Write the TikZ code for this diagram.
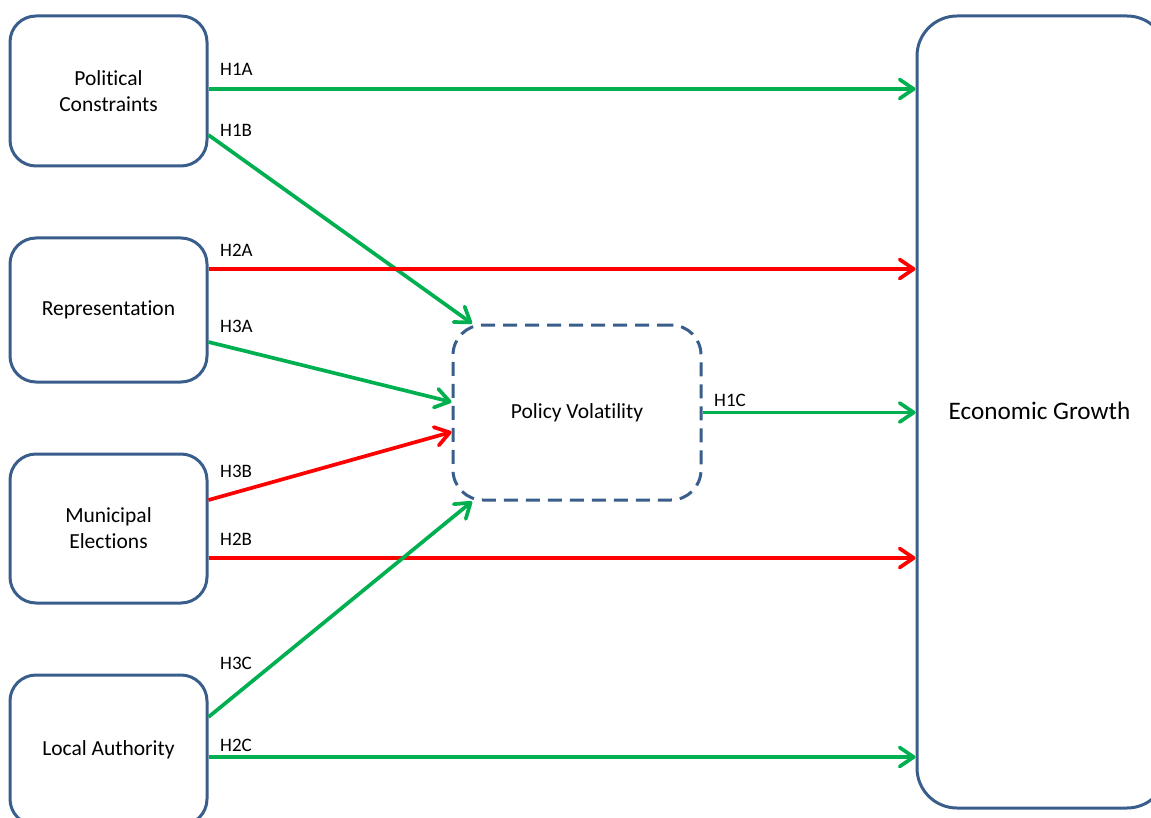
\documentclass[tikz,border=0pt]{standalone}
\usepackage{fontspec}
\setmainfont{Carlito}[Ligatures=NoCommon]
\usetikzlibrary{arrows.meta}
\definecolor{boxblue}{HTML}{3A5E8C}
\definecolor{posgreen}{HTML}{00B050}
\definecolor{negred}{HTML}{FF0000}
\tikzset{
  mybox/.style={draw=boxblue, line width=3pt, rounded corners=26pt, fill=white,
    align=center, inner sep=0pt, font=\fontsize{21.5}{26}\selectfont},
  mydbox/.style={draw=boxblue, line width=3pt, rounded corners=30pt,
    dash pattern=on 14pt off 8pt, align=center, inner sep=0pt,
    font=\fontsize{21.5}{26}\selectfont},
  myconn/.style={line width=3.7pt, -{Straight Barb[length=14pt,width=19pt,line cap=round,line join=round]}},
  posarrow/.style={myconn, draw=posgreen},
  negarrow/.style={myconn, draw=negred},
  mylbl/.style={anchor=base west, inner sep=0pt, font=\fontsize{19}{22}\selectfont}
}
\begin{document}
\begin{tikzpicture}[x=1pt,y=-1pt]
\useasboundingbox (0,0) rectangle (1151,818);
\begin{scope}
\clip (0,0) rectangle (1151,818);
% boxes
\node[mybox, minimum width=197pt, minimum height=150pt] (pc) at (108.5,91) {Political\\Constraints};
\node[mybox, minimum width=197pt, minimum height=144pt] (rep) at (108.5,310) {Representation};
\node[mybox, minimum width=197pt, minimum height=149pt] (me) at (108.5,528.5) {Municipal\\Elections};
\node[mybox, minimum width=197pt, minimum height=150pt] (la) at (108.5,750) {Local Authority};
\node[mybox, rounded corners=40pt, minimum width=250pt, minimum height=792pt] (eg) at (1042,412) {};
\node[anchor=base, inner sep=0pt, font=\fontsize{25.2}{29}\selectfont] (egt) at (1039.5,419) {Economic Growth};
\node[mydbox, minimum width=248pt, minimum height=175pt] (pv) at (577,412.5) {Policy Volatility};
\end{scope}
% connectors
\draw[posarrow] ([yshift=2pt]pc.east) -- ([yshift=323pt]eg.west);
\draw[posarrow] ([yshift=-44pt]pc.east) -- ([xshift=-105pt]pv.north);
\draw[negarrow] ([yshift=41pt]rep.east) -- ([yshift=143pt]eg.west);
\draw[posarrow] ([yshift=-32pt]rep.east) -- ([yshift=10.5pt]pv.west);
\draw[negarrow] ([yshift=28.5pt]me.east) -- ([yshift=-19.5pt]pv.west);
\draw[negarrow] ([yshift=-29.5pt]me.east) -- ([yshift=-146pt]eg.west);
\draw[posarrow] ([yshift=33pt]la.east) -- ([xshift=-105pt]pv.south);
\draw[posarrow] ([yshift=-7pt]la.east) -- ([yshift=-345pt]eg.west);
\draw[posarrow] (pv.east) -- (pv.east -| eg.west);
% labels
\node[mylbl] (l1a) at (220,76) {H1A};
\node[mylbl] (l1b) at (220,137) {H1B};
\node[mylbl] (l2a) at (220,257) {H2A};
\node[mylbl] (l3a) at (220,332) {H3A};
\node[mylbl] (l3b) at (220,477) {H3B};
\node[mylbl] (l2b) at (220,545) {H2B};
\node[mylbl] (l3c) at (220,669) {H3C};
\node[mylbl] (l2c) at (220,751) {H2C};
\node[mylbl] (l1c) at (714,406) {H1C};
\end{tikzpicture}
\end{document}
